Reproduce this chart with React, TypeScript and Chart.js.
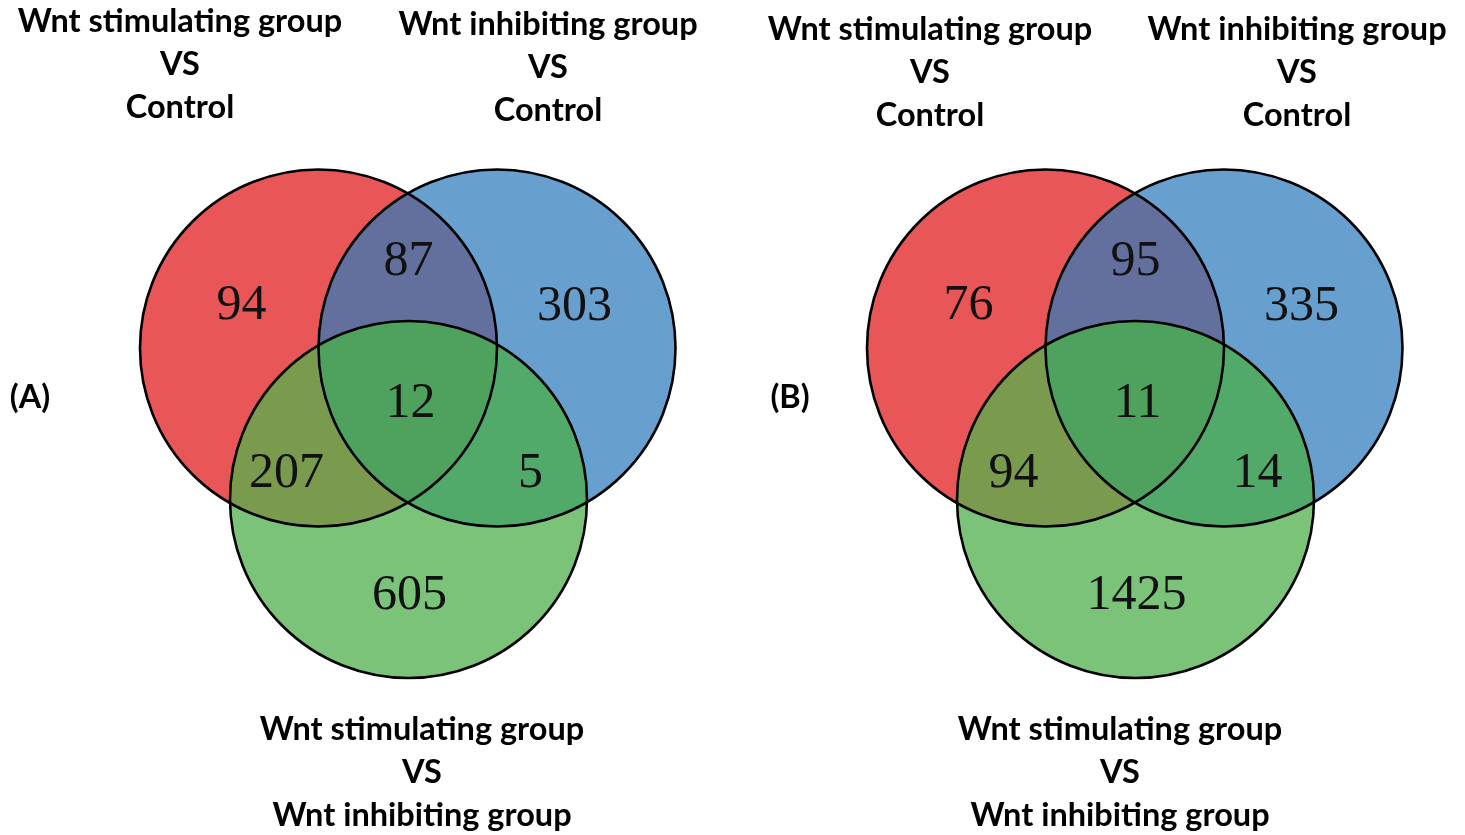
import React, { useEffect, useRef } from "react";
import { Chart, registerables } from "chart.js";
Chart.register(...registerables);

// ---- data ----
const setNames = ["Wnt stimulating group VS Control", "Wnt inhibiting group VS Control", "Wnt stimulating group VS Wnt inhibiting group"];
const titleLinesStim = ["Wnt stimulating group", "VS", "Control"];
const titleLinesInhib = ["Wnt inhibiting group", "VS", "Control"];
const titleLinesCmp = ["Wnt stimulating group", "VS", "Wnt inhibiting group"];
const panelTags = ["(A)", "(B)"];
// region order: stim only, stim∩inhib, inhib only, stim∩cmp, all three, inhib∩cmp, cmp only
const regionKeys = ["S", "SI", "I", "SC", "SIC", "IC", "C"];
const countsA = [94, 87, 303, 207, 12, 5, 605];
const countsB = [76, 95, 335, 94, 11, 14, 1425];

// ---- layout (positions / sizes / styles) ----
const W = 1465;
const H = 835;
const R = 178.5;
const panelOrigins = [{ x: 318.5, y: 348 }, { x: 1045.5, y: 348 }];
const circleOffsets = [{ dx: 0, dy: 0 }, { dx: 178.5, dy: 0 }, { dx: 90, dy: 151.5 }];
const regionOffsets = [
  { dx: -77, dy: -46 }, { dx: 90, dy: -90 }, { dx: 256, dy: -45 },
  { dx: -32, dy: 122 }, { dx: 92, dy: 52 }, { dx: 212, dy: 122 }, { dx: 91, dy: 244 },
];
const titlePos = [
  [{ x: 180, y: 22 }, { x: 548, y: 25 }, { x: 422, y: 730 }],
  [{ x: 930, y: 30 }, { x: 1297, y: 30 }, { x: 1120, y: 730 }],
];
const tagPos = [{ x: 30, y: 398 }, { x: 790, y: 398 }];
const lineGap = 43;
const circleColors = ["#E85658", "#67A0CE", "#7CC37A"];
const overlapColors = { SI: "#63709E", SC: "#7A9A4D", IC: "#52AA6A", SIC: "#4FA25E" };
const titleFont = 'bold 32.5px Lato, "Open Sans", sans-serif';
const countFont = '50px "Liberation Serif", "Times New Roman", serif';

export default function App() {
  const ref = useRef<HTMLCanvasElement>(null);
  useEffect(() => {
    const canvas = ref.current!;
    const panels = [countsA, countsB];
    const titles = [titleLinesStim, titleLinesInhib, titleLinesCmp];

    const vennPlugin = {
      id: "venn",
      afterDatasetsDraw(chart: any) {
        const ctx = chart.ctx as CanvasRenderingContext2D;
        const xs = chart.scales.x;
        const ys = chart.scales.y;
        const rr = Math.abs(xs.getPixelForValue(R) - xs.getPixelForValue(0));
        const circ = (s: number, p: number) => {
          const el = chart.getDatasetMeta(s).data[p];
          return { x: el.x, y: el.y, r: rr };
        };
        const path = (c: any) => {
          ctx.beginPath();
          ctx.arc(c.x, c.y, c.r, 0, Math.PI * 2);
        };
        for (let p = 0; p < panels.length; p++) {
          const cs = [0, 1, 2].map((s) => circ(s, p));
          const [a, b, c] = cs;
          ctx.save();
          cs.forEach((k, s) => { path(k); ctx.fillStyle = circleColors[s]; ctx.fill(); });
          ctx.restore();
          const fillIn = (clips: any[], target: any, color: string) => {
            ctx.save();
            clips.forEach((k) => { path(k); ctx.clip(); });
            path(target);
            ctx.fillStyle = color;
            ctx.fill();
            ctx.restore();
          };
          fillIn([a], b, overlapColors.SI);
          fillIn([a], c, overlapColors.SC);
          fillIn([b], c, overlapColors.IC);
          fillIn([a, b], c, overlapColors.SIC);
          ctx.save();
          ctx.lineWidth = 2.6;
          ctx.strokeStyle = "#000";
          cs.forEach((k) => { path(k); ctx.stroke(); });
          ctx.restore();

          // counts
          ctx.save();
          ctx.fillStyle = "#111";
          ctx.font = countFont;
          ctx.textAlign = "center";
          ctx.textBaseline = "alphabetic";
          const o = panelOrigins[p];
          panels[p].forEach((v, i) => {
            const px = xs.getPixelForValue(o.x + regionOffsets[i].dx);
            const py = ys.getPixelForValue(o.y + regionOffsets[i].dy);
            ctx.fillText(String(v), px, py + 17);
          });
          ctx.restore();

          // titles
          ctx.save();
          ctx.fillStyle = "#000";
          ctx.font = titleFont;
          ctx.textAlign = "center";
          ctx.textBaseline = "middle";
          titles.forEach((lines, t) => {
            const tp = titlePos[p][t];
            lines.forEach((ln, li) => {
              ctx.fillText(ln, xs.getPixelForValue(tp.x), ys.getPixelForValue(tp.y + li * lineGap));
            });
          });
          ctx.fillText(panelTags[p], xs.getPixelForValue(tagPos[p].x), ys.getPixelForValue(tagPos[p].y));
          ctx.restore();
        }
      },
    };

    const datasets = circleOffsets.map((off, s) => ({
      label: setNames[s],
      data: panelOrigins.map((o) => ({ x: o.x + off.dx, y: o.y + off.dy })),
      backgroundColor: circleColors[s],
      borderWidth: 0,
      radius: 0,
      hoverRadius: 0,
    }));

    const chart = new Chart(canvas, {
      type: "bubble",
      data: { datasets },
      options: {
        animation: false,
        responsive: false,
        events: [],
        layout: { padding: 0 },
        plugins: { legend: { display: false }, tooltip: { enabled: false } },
        scales: {
          x: { type: "linear", min: 0, max: W, display: false },
          y: { type: "linear", min: 0, max: H, reverse: true, display: false },
        },
      },
      plugins: [vennPlugin],
    } as any);
    return () => chart.destroy();
  }, []);

  return (
    <div style={{ position: "fixed", left: 0, top: 0, width: W, height: H, background: "#fff" }}>
      <canvas ref={ref} width={W} height={H} style={{ width: W, height: H, display: "block" }} />
    </div>
  );
}
